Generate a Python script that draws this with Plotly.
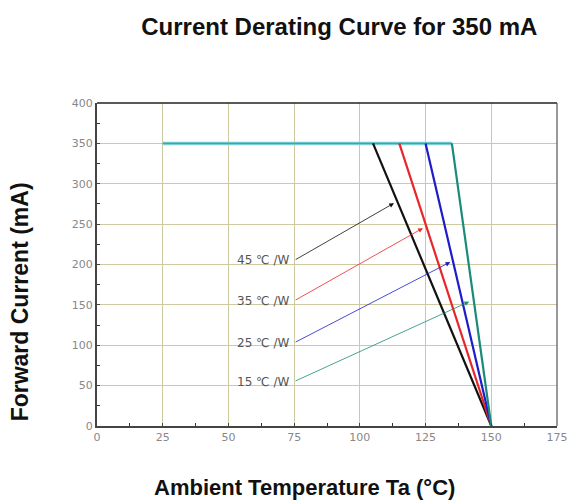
import plotly.graph_objects as go

# Data
knee_temps = [105, 115, 125, 135]          # start of derating for 45,35,25,15 °C/W
rated_current = 350
zero_temp = 150
plateau_x = [25, 135]
labels = ["45 ℃ /W", "35 ℃ /W", "25 ℃ /W", "15 ℃ /W"]
line_colors = ["#111111", "#e8262a", "#1c1cc8", "#1a8a7a"]
ann_start_y = [205, 155, 103, 55]
ann_start_x = [75, 75, 75, 75]
ann_end_x = [113, 124, 134.4, 141.6]
ann_end_y = [276, 245, 203, 154]

fig = go.Figure()

# plateau
fig.add_trace(go.Scatter(x=plateau_x, y=[rated_current, rated_current], mode="lines",
                         line=dict(color="#7ccfd6", width=3.5), showlegend=False, hoverinfo="skip"))
fig.add_trace(go.Scatter(x=plateau_x, y=[rated_current, rated_current], mode="lines",
                         line=dict(color="#3aa6ae", width=1.2), showlegend=False, hoverinfo="skip"))

for kt, c in zip(knee_temps, line_colors):
    fig.add_trace(go.Scatter(x=[kt, zero_temp], y=[rated_current, 0], mode="lines",
                             line=dict(color=c, width=2.2), showlegend=False, hoverinfo="skip"))

for lab, c, sx, sy, ex, ey in zip(labels, line_colors, ann_start_x, ann_start_y, ann_end_x, ann_end_y):
    fig.add_annotation(x=ex, y=ey, ax=sx, ay=sy, xref="x", yref="y", axref="x", ayref="y",
                       showarrow=True, arrowhead=2, arrowsize=1.2, arrowwidth=0.8,
                       arrowcolor=c, text="")
    fig.add_annotation(x=sx - 1.2, y=sy, xref="x", yref="y", text=lab, showarrow=False,
                       xanchor="right", yanchor="middle",
                       font=dict(family="DejaVu Sans", size=12, color="#555555"))

fig.update_layout(
    width=580, height=504,
    margin=dict(l=97, r=18, t=103, b=78),
    paper_bgcolor="white", plot_bgcolor="white",
    title=dict(text="<b>Current Derating Curve for 350 mA</b>", x=0.585, xanchor="center",
               y=0.948, yanchor="middle",
               font=dict(family="Liberation Sans", size=24, color="#111111")),
    xaxis=dict(range=[0, 175], tickvals=[0, 25, 50, 75, 100, 125, 150, 175],
               showgrid=True, gridcolor="#cdc9a0", gridwidth=1,
               zeroline=False, showline=True, linecolor="#444444", linewidth=2, mirror=False,
               ticks="inside", ticklen=3, tickcolor="#444444",
               minor=dict(dtick=12.5, ticks="inside", ticklen=3, tickcolor="#333333", showgrid=False),
               tickfont=dict(family="DejaVu Sans", size=11, color="#888888")),
    yaxis=dict(range=[0, 400], tickvals=[0, 50, 100, 150, 200, 250, 300, 350, 400],
               showgrid=True, gridcolor="#cdc9a0", gridwidth=1,
               zeroline=False, showline=True, linecolor="#444444", linewidth=2, mirror=False,
               ticks="inside", ticklen=3, tickcolor="#444444",
               minor=dict(dtick=25, ticks="inside", ticklen=3, tickcolor="#333333", showgrid=False),
               tickfont=dict(family="DejaVu Sans", size=11, color="#888888")),
)

# top and right frame
fig.add_shape(type="line", xref="paper", yref="paper", x0=0, x1=1, y0=1, y1=1,
              line=dict(color="#222222", width=1.5))
fig.add_shape(type="line", xref="paper", yref="paper", x0=1, x1=1, y0=0, y1=1,
              line=dict(color="#555555", width=1.2))

fig.add_annotation(text="<b>Ambient Temperature Ta (°C)</b>", xref="paper", yref="paper",
                   x=0.45, y=-0.19, showarrow=False, xanchor="center", yanchor="middle",
                   font=dict(family="Liberation Sans", size=22, color="#111111"))
fig.add_annotation(text="<b>Forward Current (mA)</b>", xref="paper", yref="paper",
                   x=-0.168, y=0.385, showarrow=False, textangle=-90, xanchor="center", yanchor="middle",
                   font=dict(family="Liberation Sans", size=23, color="#111111"))

fig.write_html("out.html")
